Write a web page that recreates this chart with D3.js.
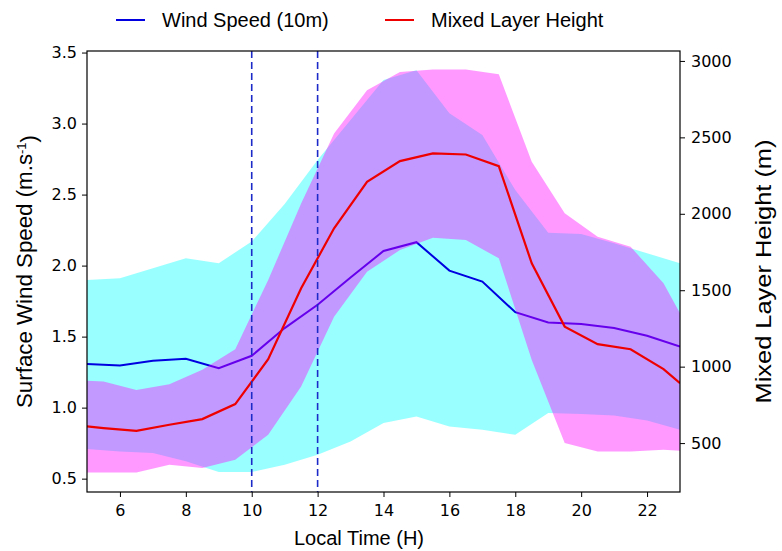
<!DOCTYPE html>
<html>
<head>
<meta charset="utf-8">
<script src="https://cdn.jsdelivr.net/npm/d3@7"></script>
<style>
  body { margin: 0; background: #fff; }
  .tick text { font-family: "DejaVu Sans", sans-serif; font-size: 16px; fill: #000; }
  .tick line { stroke: #000; stroke-width: 1; }
  .lbl { font-family: "Liberation Sans", Arial, sans-serif; fill: #000; }
</style>
</head>
<body>
<div id="chart"></div>
<script>
// wind speed (left axis), hourly
var windHours = [5, 6, 7, 8, 9, 10, 11, 12, 13, 14, 15, 16, 17, 18, 19, 20, 21, 22, 23];
var windMean  = [1.307, 1.297, 1.330, 1.344, 1.278, 1.365, 1.56, 1.724, 1.916, 2.103, 2.165, 1.965, 1.888, 1.672, 1.599, 1.588, 1.560, 1.506, 1.430];
var windUpper = [1.899, 1.911, 1.982, 2.052, 2.017, 2.169, 2.434, 2.743, 3.025, 3.306, 3.376, 3.072, 2.919, 2.532, 2.232, 2.223, 2.158, 2.087, 2.017];
var windLower = [0.709, 0.692, 0.681, 0.622, 0.547, 0.547, 0.598, 0.669, 0.762, 0.892, 0.938, 0.868, 0.845, 0.809, 0.962, 0.955, 0.945, 0.910, 0.845];

// mixed layer height (right axis), half hours
var mlhHours = [5, 5.5, 6.5, 7.5, 8.5, 9.5, 10.5, 11.5, 12.5, 13.5, 14.5, 15.5, 16.5, 17.5, 18.5, 19.5, 20.5, 21.5, 22.5, 23];
var mlhMean  = [609, 598, 580, 620, 657, 755, 1049, 1513, 1905, 2209, 2345, 2395, 2388, 2312, 1676, 1262, 1147, 1114, 984, 892];
var mlhUpper = [907, 903, 848, 885, 979, 1114, 1567, 2068, 2526, 2809, 2928, 2944, 2944, 2913, 2340, 2003, 1850, 1785, 1545, 1349];
var mlhLower = [308, 308, 308, 358, 337, 391, 554, 870, 1327, 1621, 1763, 1843, 1828, 1709, 1044, 500, 445, 445, 456, 450];

var markHours = [10, 12];
var xTicks = [6, 8, 10, 12, 14, 16, 18, 20, 22];
var windTicks = [0.5, 1.0, 1.5, 2.0, 2.5, 3.0, 3.5];
var mlhTicks = [500, 1000, 1500, 2000, 2500, 3000];

var W = 782, H = 551;
var margin = { top: 51, right: 102, bottom: 59, left: 87 },
    width = W - margin.left - margin.right,
    height = H - margin.top - margin.bottom;

var svg = d3.select("#chart").append("svg")
    .attr("width", W)
    .attr("height", H);

var g = svg.append("g")
    .attr("transform", "translate(" + margin.left + "," + margin.top + ")");

var x = d3.scaleLinear().domain([5, 23]).range([0, width]);
var yL = d3.scaleLinear().domain([0.406, 3.511]).range([height, 0]);
var yR = d3.scaleLinear().domain([180, 3065]).range([height, 0]);

g.append("clipPath").attr("id", "clip")
  .append("rect").attr("width", width).attr("height", height);

var plot = g.append("g").attr("clip-path", "url(#clip)");

var wind = windHours.map(function (h, i) {
    return { h: h, m: windMean[i], lo: windLower[i], hi: windUpper[i] };
});
var mlh = mlhHours.map(function (h, i) {
    return { h: h, m: mlhMean[i], lo: mlhLower[i], hi: mlhUpper[i] };
});

// wind band + line
plot.append("path")
    .datum(wind)
    .attr("fill", "#00ffff")
    .attr("fill-opacity", 0.4)
    .attr("d", d3.area().x(function (d) { return x(d.h); })
        .y0(function (d) { return yL(d.lo); })
        .y1(function (d) { return yL(d.hi); }));

plot.append("path")
    .datum(wind)
    .attr("fill", "none")
    .attr("stroke", "#0000e0")
    .attr("stroke-width", 2)
    .attr("d", d3.line().x(function (d) { return x(d.h); }).y(function (d) { return yL(d.m); }));

// mixed layer band + line
plot.append("path")
    .datum(mlh)
    .attr("fill", "#ff00ff")
    .attr("fill-opacity", 0.4)
    .attr("d", d3.area().x(function (d) { return x(d.h); })
        .y0(function (d) { return yR(d.lo); })
        .y1(function (d) { return yR(d.hi); }));

plot.append("path")
    .datum(mlh)
    .attr("fill", "none")
    .attr("stroke", "#ee0000")
    .attr("stroke-width", 2.2)
    .attr("d", d3.line().x(function (d) { return x(d.h); }).y(function (d) { return yR(d.m); }));

// dashed markers
plot.selectAll(".mark")
    .data(markHours)
    .enter().append("line")
    .attr("x1", function (d) { return x(d); })
    .attr("x2", function (d) { return x(d); })
    .attr("y1", 0)
    .attr("y2", height)
    .attr("stroke", "#1c2bc8")
    .attr("stroke-width", 1.6)
    .attr("stroke-dasharray", "7,4");

// axes
var xAxis = g.append("g")
    .attr("transform", "translate(0," + height + ")")
    .call(d3.axisBottom(x).tickValues(xTicks).tickSize(5).tickPadding(8).tickFormat(d3.format("d")));
xAxis.select(".domain").remove();

var lAxis = g.append("g")
    .call(d3.axisLeft(yL).tickValues(windTicks).tickSize(5).tickPadding(5).tickFormat(d3.format(".1f")));
lAxis.select(".domain").remove();

var rAxis = g.append("g")
    .attr("transform", "translate(" + width + ",0)")
    .call(d3.axisRight(yR).tickValues(mlhTicks).tickSize(5).tickPadding(6).tickFormat(d3.format("d")));
rAxis.select(".domain").remove();

g.append("rect")
    .attr("width", width)
    .attr("height", height)
    .attr("fill", "none")
    .attr("stroke", "#000")
    .attr("stroke-width", 1.2);

// axis labels
svg.append("text")
    .attr("class", "lbl")
    .attr("x", 359)
    .attr("y", 545)
    .attr("text-anchor", "middle")
    .style("font-size", "20px")
    .text("Local Time (H)");

var leftLabel = svg.append("text")
    .attr("class", "lbl")
    .attr("transform", "translate(32," + (margin.top + height / 2) + ") rotate(-90)")
    .attr("text-anchor", "middle")
    .style("font-size", "22.3px");
leftLabel.append("tspan").text("Surface Wind Speed (m.s");
leftLabel.append("tspan").attr("dy", "-0.45em").style("font-size", "13px").text("-1");
leftLabel.append("tspan").attr("dy", "0.45em").text(")");

svg.append("text")
    .attr("class", "lbl")
    .attr("transform", "translate(771," + (margin.top + height / 2) + ") rotate(-90)")
    .attr("text-anchor", "middle")
    .attr("textLength", 264)
    .attr("lengthAdjust", "spacingAndGlyphs")
    .style("font-size", "22px")
    .text("Mixed Layer Height (m)");

// legend
var legendItems = [
    { label: "Wind Speed (10m)", color: "#0000e0", x: 116 },
    { label: "Mixed Layer Height", color: "#ee0000", x: 385 }
];
var legend = svg.selectAll(".legend")
    .data(legendItems)
    .enter().append("g")
    .attr("transform", function (d) { return "translate(" + d.x + ",20)"; });
legend.append("line")
    .attr("x1", 0).attr("x2", 29)
    .attr("stroke", function (d) { return d.color; })
    .attr("stroke-width", 2);
legend.append("text")
    .attr("class", "lbl")
    .attr("x", 46)
    .attr("y", 7)
    .style("font-size", "20px")
    .text(function (d) { return d.label; });
</script>
</body>
</html>
